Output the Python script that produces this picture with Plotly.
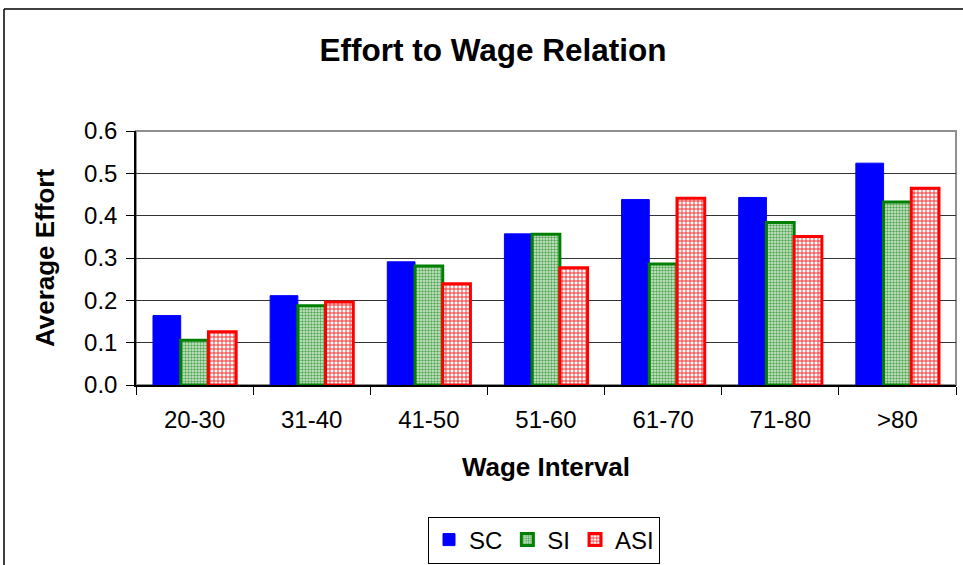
import plotly.graph_objects as go

categories = ["20-30", "31-40", "41-50", "51-60", "61-70", "71-80", ">80"]
sc_values = [0.164, 0.211, 0.291, 0.357, 0.438, 0.443, 0.524]
si_values = [0.106, 0.187, 0.281, 0.356, 0.286, 0.384, 0.432]
asi_values = [0.126, 0.196, 0.239, 0.277, 0.441, 0.351, 0.465]
y_ticks = [0.0, 0.1, 0.2, 0.3, 0.4, 0.5, 0.6]

FONT = "Liberation Sans, Arial, sans-serif"

fig = go.Figure()
fig.add_trace(go.Bar(
    name="SC", x=categories, y=sc_values,
    marker=dict(color="#0000FF", line=dict(color="#0000FF", width=1)),
))
fig.add_trace(go.Bar(
    name="SI", x=categories, y=si_values,
    marker=dict(color="#008000", line=dict(color="#008000", width=3),
                pattern=dict(shape=".", fgcolor="#55A855", bgcolor="#D8EDD8",
                             size=3, solidity=0.5, fillmode="replace")),
))
fig.add_trace(go.Bar(
    name="ASI", x=categories, y=asi_values,
    marker=dict(color="#FF0000", line=dict(color="#FF0000", width=3),
                pattern=dict(shape="+", fgcolor="#FF0000", bgcolor="#FFFFFF",
                             size=4, solidity=0.35, fillmode="replace")),
))

W, H = 963, 565
L, R, T, B = 136, 7, 131, 180
pw, ph = W - L - R, H - T - B

def px(x):
    return (x - L) / pw

def py(y):
    return (H - B - y) / ph

fig.update_layout(
    width=W, height=H,
    margin=dict(l=L, r=R, t=T, b=B, autoexpand=False),
    paper_bgcolor="white", plot_bgcolor="white",
    font=dict(family=FONT, size=24, color="black"),
    barmode="group", bargap=0.29, bargroupgap=0.0,
    title=dict(text="<b>Effort to Wage Relation</b>", x=(493) / W, xanchor="center",
               y=1 - 50 / H, yanchor="middle", font=dict(size=31.5, family=FONT)),
    showlegend=True,
    legend=dict(orientation="h", x=px(544), xanchor="center", y=py(540), yanchor="middle",
                bordercolor="black", borderwidth=1, font=dict(size=24, family=FONT),
                itemwidth=30, traceorder="normal", tracegroupgap=0),
    xaxis=dict(
        showline=True, linecolor="black", linewidth=1.5,
        ticks="outside", tickson="boundaries", ticklen=8, tickcolor="black",
        tickfont=dict(size=24), showgrid=False, ticklabelstandoff=12,
        title=dict(text="<b>Wage Interval</b>", font=dict(size=26), standoff=26),
    ),
    yaxis=dict(
        range=[0, 0.6], tickvals=y_ticks, tickformat=".1f",
        showline=True, linecolor="black", linewidth=1.5,
        ticks="outside", ticklen=8, tickcolor="black",
        showgrid=True, gridcolor="#333333", gridwidth=1,
        tickfont=dict(size=24), zeroline=False, ticklabelstandoff=4,
        title=dict(text="<b>Average Effort</b>", font=dict(size=26), standoff=22),
    ),
    shapes=[
        dict(type="rect", xref="paper", yref="paper", x0=0, x1=1, y0=0, y1=1,
             line=dict(color="#909090", width=2), layer="below"),
        dict(type="line", xref="paper", yref="paper", x0=px(4), x1=px(4), y0=py(9), y1=py(570),
             line=dict(color="black", width=1.5)),
        dict(type="line", xref="paper", yref="paper", x0=px(4), x1=px(970), y0=py(9), y1=py(9),
             line=dict(color="black", width=1.5)),
    ],
)

fig.write_html("out.html", config={"displayModeBar": False},
               post_script="document.body.style.margin='0';document.body.style.overflow='hidden';")
